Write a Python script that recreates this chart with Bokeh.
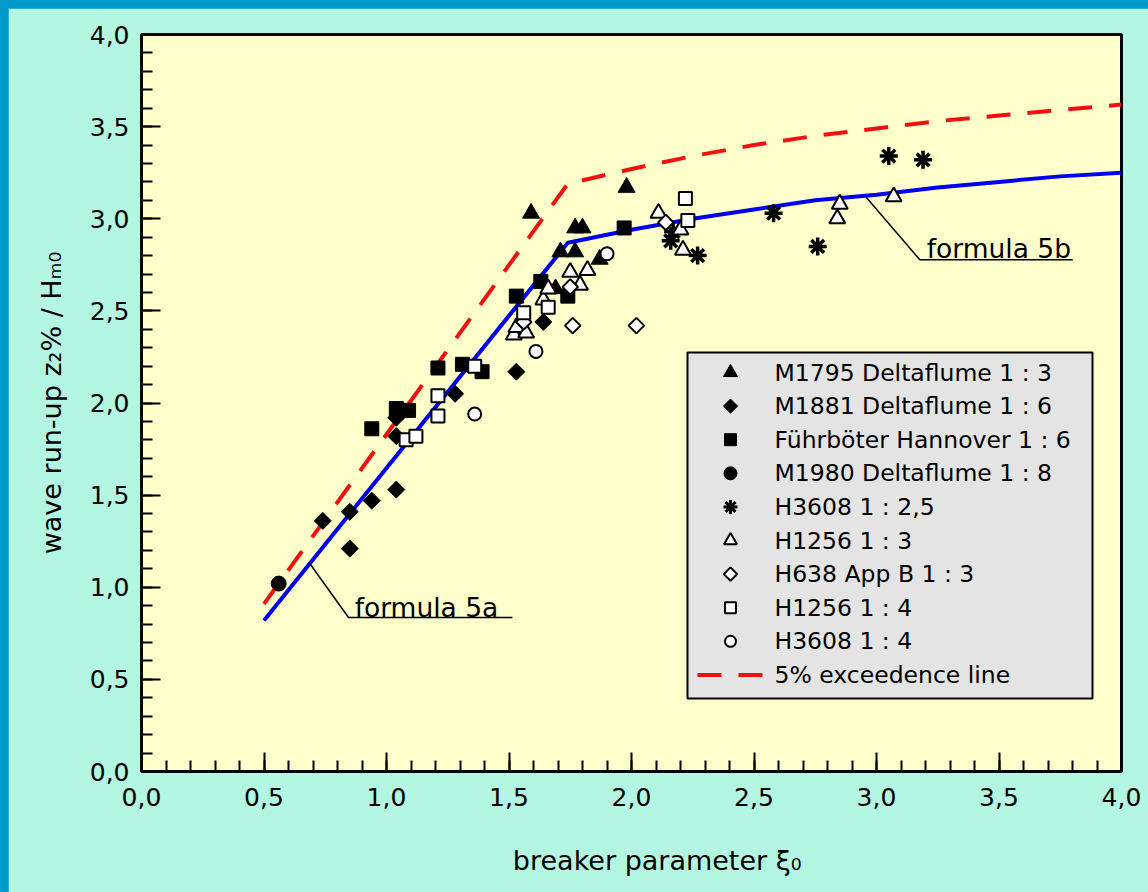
from math import pi
from bokeh.plotting import figure
from bokeh.models import (FixedTicker, CustomJSTickFormatter, Label,
                          GlobalInlineStyleSheet)
from bokeh.core.properties import value
from bokeh.embed import file_html
from bokeh.resources import INLINE

# ---------------- data ----------------
M1795_X = [1.59, 1.98, 1.77, 1.80, 1.71, 1.77, 1.87, 1.69]
M1795_Y = [3.03, 3.17, 2.95, 2.95, 2.82, 2.82, 2.78, 2.62]

M1881_X = [0.74, 0.85, 0.85, 0.94, 1.04, 1.04, 1.04, 1.28, 1.53, 1.64]
M1881_Y = [1.36, 1.41, 1.21, 1.47, 1.53, 1.82, 1.92, 2.05, 2.17, 2.44]

FUHR_X = [0.94, 1.04, 1.09, 1.21, 1.31, 1.39, 1.53, 1.63, 1.74, 1.97]
FUHR_Y = [1.86, 1.97, 1.96, 2.19, 2.21, 2.17, 2.58, 2.66, 2.58, 2.95]

M1980_X = [0.56]
M1980_Y = [1.02]

H3608A_X = [2.17, 2.16, 2.27, 2.58, 2.76, 3.05, 3.19]
H3608A_Y = [2.93, 2.88, 2.80, 3.03, 2.85, 3.34, 3.32]

H1256A_X = [1.52, 1.53, 1.57, 1.64, 1.66, 1.75, 1.82, 1.79, 2.11, 2.20, 2.21, 2.85, 2.84, 3.07]
H1256A_Y = [2.37, 2.41, 2.38, 2.56, 2.62, 2.71, 2.72, 2.64, 3.03, 2.94, 2.83, 3.08, 3.00, 3.12]

H638_X = [1.56, 1.75, 1.76, 2.02, 2.14]
H638_Y = [2.44, 2.63, 2.42, 2.42, 2.98]

H1256B_X = [1.08, 1.12, 1.21, 1.21, 1.36, 1.56, 1.66, 2.22, 2.23]
H1256B_Y = [1.80, 1.82, 1.93, 2.04, 2.20, 2.49, 2.52, 3.11, 2.99]

H3608B_X = [1.36, 1.61, 1.90]
H3608B_Y = [1.94, 2.28, 2.81]

# formula 5a / 5b (blue) and 5% exceedance line (red dashed)
CURVE_X = [0.5, 1.74, 2.0, 2.25, 2.5, 2.75, 3.0, 3.25, 3.5, 3.75, 4.0]
BLUE_Y = [0.82, 2.87, 2.94, 3.00, 3.05, 3.10, 3.13, 3.17, 3.20, 3.23, 3.25]
RED_Y = [0.91, 3.19, 3.27, 3.34, 3.40, 3.45, 3.49, 3.53, 3.56, 3.59, 3.62]

TICKS = [0.0, 0.5, 1.0, 1.5, 2.0, 2.5, 3.0, 3.5, 4.0]
MINOR_TICKS = [i / 10 for i in range(41)]

LEGEND_LABELS = ["M1795 Deltaflume 1 : 3", "M1881 Deltaflume 1 : 6",
                 "Führböter Hannover 1 : 6", "M1980 Deltaflume 1 : 8",
                 "H3608 1 : 2,5", "H1256 1 : 3", "H638 App B 1 : 3",
                 "H1256 1 : 4", "H3608 1 : 4", "5% exceedence line"]

X_TITLE = "breaker parameter \u03be\u2080"
Y_TITLE = "wave run-up z\u2082% / H\u2098\u2080"

# annotation leader positions (data units)
LEAD_5A_X = [0.686, 0.845, 1.514]
LEAD_5A_Y = [1.13, 0.836, 0.836]
LEAD_5B_X = [2.958, 3.177, 3.801]
LEAD_5B_Y = [3.117, 2.777, 2.777]

# ---------------- styling / layout ----------------
FONT = "DejaVu Sans"
MINT = "#b3f6e2"
YELLOW = "#ffffcc"
EDGE_BLUE = "#0099cc"
FRAME_W, FRAME_H = 980, 737

# marker styles: (marker, angle, plot size, legend size, fill, line width)
STYLES = [
    ("triangle", 0, 17, 14, "black", 1),
    ("square", pi / 4, 12, 10, "black", 1),
    ("square", 0, 14, 12, "black", 1),
    ("circle", 0, 15, 13, "black", 1),
    ("asterisk", 0, 18, 14, None, 3.5),
    ("triangle", 0, 16, 13, "white", 2),
    ("square", pi / 4, 11, 9.5, "white", 2),
    ("square", 0, 13, 11, "white", 2),
    ("circle", 0, 13, 11, "white", 2),
]
SERIES = [(M1795_X, M1795_Y), (M1881_X, M1881_Y), (FUHR_X, FUHR_Y),
          (M1980_X, M1980_Y), (H3608A_X, H3608A_Y), (H1256A_X, H1256A_Y),
          (H638_X, H638_Y), (H1256B_X, H1256B_Y), (H3608B_X, H3608B_Y)]

# legend box layout in frame pixels (from frame top-left)
LEG_L, LEG_R, LEG_T, LEG_B = 546, 951, 318, 664
ROW0, ROW_STEP = 338, 33.6
MARK_PX, TEXT_PX, DASH_PX0, DASH_PX1 = 589, 633, 556, 622


def fx(px):
    return px / FRAME_W * 4.0


def fy(py):
    return 4.0 - py / FRAME_H * 4.0


p = figure(frame_width=FRAME_W, frame_height=FRAME_H,
           min_border_left=133, min_border_right=27,
           min_border_top=26, min_border_bottom=121,
           x_range=(0, 4), y_range=(0, 4),
           output_backend="svg", toolbar_location=None,
           background_fill_color=YELLOW, border_fill_color=MINT)

p.outline_line_color = "black"
p.outline_line_width = 3
p.outline_line_alpha = 1.0
p.xgrid.visible = False
p.ygrid.visible = False

for ax in (p.xaxis[0], p.yaxis[0]):
    ax.ticker = FixedTicker(ticks=TICKS, minor_ticks=MINOR_TICKS)
    ax.formatter = CustomJSTickFormatter(code="return tick.toFixed(1).replace('.', ',');")
    ax.major_tick_in = 19
    ax.major_tick_out = 0
    ax.minor_tick_in = 11
    ax.minor_tick_out = 0
    ax.major_tick_line_width = 2
    ax.minor_tick_line_width = 2
    ax.major_tick_line_color = "black"
    ax.minor_tick_line_color = "black"
    ax.axis_line_width = 3
    ax.axis_line_color = "black"
    ax.major_label_text_font = FONT
    ax.major_label_text_font_size = "25px"
    ax.major_label_text_color = "black"
    ax.axis_label_text_font = FONT
    ax.axis_label_text_font_size = "27px"
    ax.axis_label_text_font_style = "normal"
    ax.axis_label_text_color = "black"
p.xaxis.major_label_standoff = 16
p.yaxis.major_label_standoff = 12

p.yaxis.axis_label = Y_TITLE
p.yaxis.axis_label_standoff = 20
# the title sits right of the frame centre in the original: lead with no-break spaces
p.xaxis.axis_label = "\u00a0" * 6 + X_TITLE
p.xaxis.axis_label_standoff = 36

# curves
p.line(CURVE_X, BLUE_Y, line_color="#0000ee", line_width=4)
p.line(CURVE_X, RED_Y, line_color="#ee1111", line_width=4, line_dash="24 17")

# leader lines + annotation texts
p.line(LEAD_5A_X, LEAD_5A_Y, line_color="black", line_width=1.5)
p.line(LEAD_5B_X, LEAD_5B_Y, line_color="black", line_width=1.5)
p.add_layout(Label(x=0.87, y=0.89, text="formula 5a", text_font=FONT,
                   text_font_size="26.5px", text_baseline="alphabetic", text_color="black"))
p.add_layout(Label(x=3.205, y=2.836, text="formula 5b", text_font=FONT,
                   text_font_size="26.5px", text_baseline="alphabetic", text_color="black"))

# data markers
for (xs, ys), (mk, ang, sz, _, fill, lw) in zip(SERIES, STYLES):
    p.scatter(xs, ys, marker=mk, angle=ang, size=sz,
              fill_color=fill if fill else "black", line_color="black", line_width=lw)

# legend (drawn inside the frame)
p.quad(left=[fx(LEG_L)], right=[fx(LEG_R)], top=[fy(LEG_T)], bottom=[fy(LEG_B)],
       fill_color="#e4e4e4", line_color="black", line_width=2)
row_y = [fy(ROW0 + ROW_STEP * i) for i in range(len(LEGEND_LABELS))]
for i, (mk, ang, _, lsz, fill, lw) in enumerate(STYLES):
    p.scatter([fx(MARK_PX)], [row_y[i]], marker=mk, angle=ang, size=lsz,
              fill_color=fill if fill else "black", line_color="black",
              line_width=min(lw, 3))
p.line([fx(DASH_PX0), fx(DASH_PX1)], [row_y[-1], row_y[-1]],
       line_color="#ee1111", line_width=4, line_dash="24 17")
p.text(x=[fx(TEXT_PX)] * len(LEGEND_LABELS), y=row_y, text=LEGEND_LABELS,
       text_font=value(FONT), text_font_size=value("23.5px"),
       text_baseline="middle", text_align="left", text_color="black")

p.stylesheets = [GlobalInlineStyleSheet(
    css="html, body { background-color: %s; } body { padding: 8px 0 0 8px !important; }" % EDGE_BLUE)]

open("out.html", "w").write(file_html(p, INLINE))
